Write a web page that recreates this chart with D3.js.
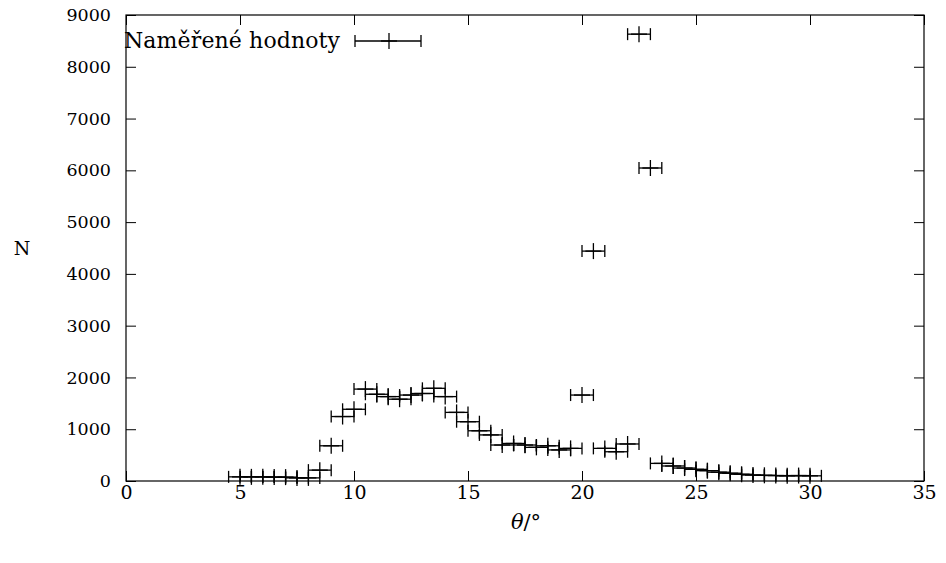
<!DOCTYPE html>
<html>
<head>
<meta charset="utf-8">
<script src="https://cdn.jsdelivr.net/npm/d3@7"></script>
<style>
body { margin:0; background:#fff; }
</style>
</head>
<body>
<svg id="chart"></svg>
<script>
// measured angles (deg)
var angles = [5.0,5.5,6.0,6.5,7.0,7.5,8.0,8.5,9.0,9.5,
              10.0,10.5,11.0,11.5,12.0,12.5,13.0,13.5,14.0,14.5,
              15.0,15.5,16.0,16.5,17.0,17.5,18.0,18.5,19.0,19.5,
              20.0,20.5,21.0,21.5,22.0,22.5,23.0,23.5,24.0,24.5,
              25.0,25.5,26.0,26.5,27.0,27.5,28.0,28.5,29.0,29.5,30.0];
// counts N
var counts = [80,80,80,75,75,60,60,210,680,1245,
              1385,1775,1675,1630,1580,1660,1690,1790,1630,1325,
              1145,970,890,695,725,695,650,680,600,630,
              1660,4440,630,565,715,8630,6045,340,290,250,
              225,200,170,150,130,115,110,105,100,105,100];
// angle uncertainty
var angleErr = 0.5;

var xTicks = [0,5,10,15,20,25,30,35];
var yTicks = [0,1000,2000,3000,4000,5000,6000,7000,8000,9000];
var legendLabel = "Naměřené hodnoty";

var serif = "DejaVu Serif";

var screen = {width:946, height:563};
var margins = {top:15, bottom:82, left:126, right:22};
var graph = {
    width: screen.width-margins.left-margins.right,
    height: screen.height-margins.top-margins.bottom
};

var svg = d3.select("#chart")
    .attr("width",screen.width)
    .attr("height",screen.height);

var xScale = d3.scaleLinear().domain([0,35]).range([0,graph.width]);
var yScale = d3.scaleLinear().domain([0,9000]).range([graph.height,0]);

var g = svg.append("g")
    .attr("transform","translate("+margins.left+","+margins.top+")");

// axes, ticks pointing inwards like gnuplot
var tick = 10;
var xAxisG = g.append("g")
    .attr("transform","translate(0,"+graph.height+")")
    .call(d3.axisBottom(xScale).tickValues(xTicks).tickSize(-tick).tickPadding(4)
        .tickFormat(d3.format("d")));
var yAxisG = g.append("g")
    .call(d3.axisLeft(yScale).tickValues(yTicks).tickSize(-tick).tickPadding(15)
        .tickFormat(d3.format("d")));
g.append("g")
    .call(d3.axisTop(xScale).tickValues(xTicks).tickSize(-tick).tickFormat(""));
g.append("g")
    .attr("transform","translate("+graph.width+",0)")
    .call(d3.axisRight(yScale).tickValues(yTicks).tickSize(-tick).tickFormat(""));

g.selectAll(".domain").remove();
g.selectAll(".tick line").attr("stroke","#000").attr("stroke-width",1);
xAxisG.selectAll(".tick text")
    .attr("font-family",serif)
    .attr("font-size",19)
    .attr("fill","#000");
yAxisG.selectAll(".tick text")
    .attr("font-family",serif)
    .attr("font-size",17.5)
    .attr("fill","#000");

g.append("rect")
    .attr("width",graph.width)
    .attr("height",graph.height)
    .attr("fill","none")
    .attr("stroke","#000")
    .attr("stroke-width",1.2);

// draws one x-errorbar point with a "+" marker
var drawPoint = function(sel,cx,cy,x0,x1)
{
    var cap = 6, plus = 8;
    sel.append("line").attr("x1",x0).attr("x2",x1).attr("y1",cy).attr("y2",cy);
    sel.append("line").attr("x1",x0).attr("x2",x0).attr("y1",cy-cap).attr("y2",cy+cap);
    sel.append("line").attr("x1",x1).attr("x2",x1).attr("y1",cy-cap).attr("y2",cy+cap);
    sel.append("line").attr("x1",cx-plus).attr("x2",cx+plus).attr("y1",cy).attr("y2",cy);
    sel.append("line").attr("x1",cx).attr("x2",cx).attr("y1",cy-plus).attr("y2",cy+plus);
};

var pts = g.append("g")
    .attr("stroke","#000")
    .attr("stroke-width",1.3);

angles.forEach(function(a,i)
{
    var p = pts.append("g");
    drawPoint(p, xScale(a), yScale(counts[i]), xScale(a-angleErr), xScale(a+angleErr));
});

// legend
svg.append("text")
    .attr("x",340)
    .attr("y",48)
    .attr("text-anchor","end")
    .attr("font-family",serif)
    .attr("font-size",22)
    .attr("textLength",216)
    .text(legendLabel);
var leg = svg.append("g").attr("stroke","#000").attr("stroke-width",1.3);
drawPoint(leg,389,41,355,421);

// axis titles
svg.append("text")
    .attr("x",22)
    .attr("y",255)
    .attr("text-anchor","middle")
    .attr("font-family",serif)
    .attr("font-size",19)
    .text("N");

var xl = svg.append("text")
    .attr("x",526)
    .attr("y",529)
    .attr("text-anchor","middle")
    .attr("font-family",serif)
    .attr("font-size",21);
xl.append("tspan").attr("font-style","italic").text("θ");
xl.append("tspan").text("/°");
</script>
</body>
</html>
